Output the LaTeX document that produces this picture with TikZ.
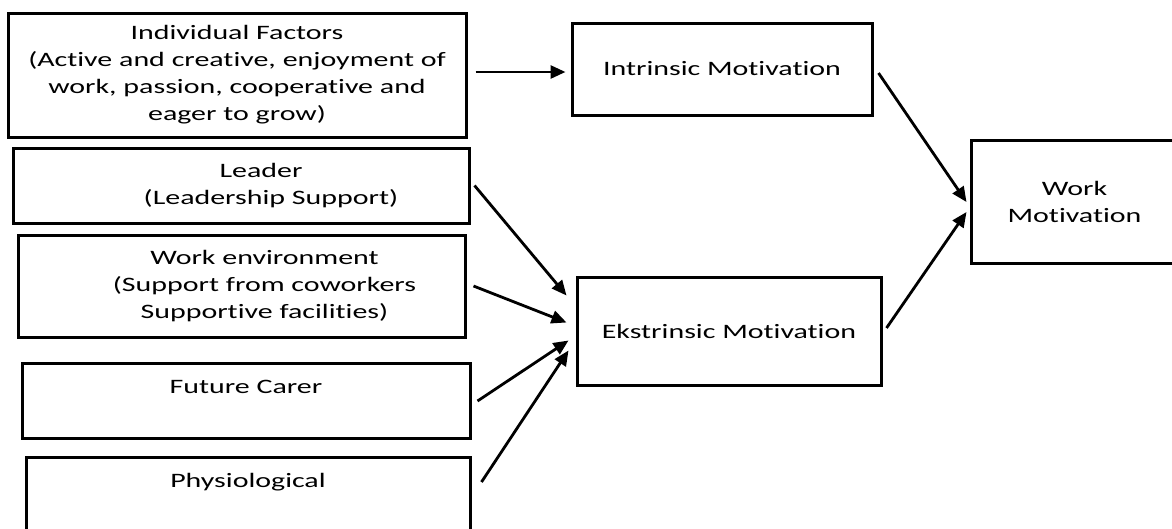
\documentclass[tikz,border=0pt]{standalone}
\usepackage{fontspec}
\setmainfont{Carlito}[FakeStretch=1.46, Ligatures=NoCommon]
\usetikzlibrary{arrows.meta}
\tikzset{box/.style={draw, line width=3pt, inner sep=0pt, align=center,
           font=\fontsize{20.5}{27}\selectfont},
         link/.style={->, line width=2.8pt}}

\begin{document}
\begin{tikzpicture}[x=1pt, y=-1pt, >={Triangle[length=15pt,width=13pt]}]
	\useasboundingbox (0,0) rectangle (1172,528);

	% factors on the left
	\node[box, text width=458pt, minimum height=124pt] (ind) at (237,75)
		{Individual Factors\\(Active and creative, enjoyment of\\work, passion, cooperative and\\eager to grow)};
	\node[box, text width=456pt, minimum height=75pt] (lead) at (241,185.5)
		{\hspace*{40pt}Leader\\\hspace*{60pt}(Leadership Support)};
	\node[box, text width=447pt, minimum height=102pt] (env) at (241.5,286)
		{\hspace*{46pt}Work environment\\\hspace*{46pt}(Support from coworkers\\\hspace*{46pt}Supportive facilities)};
	\node[box, text width=448pt, text height=29.5pt, text depth=45.5pt, anchor=north] (fut) at (246,362) {Future Carer};
	\node[box, text width=444pt, text height=29.5pt, text depth=59.5pt, anchor=north] (phys) at (248,456) {Physiological};

	% motivations
	\node[box, text width=300pt, minimum height=92pt] (intr) at (722,69) {Intrinsic Motivation};
	\node[box, text width=304pt, minimum height=108pt] (eks) at (729,331) {Ekstrinsic Motivation};
	\node[box, text width=207pt, minimum height=123pt] (wm) at (1074.5,201.5) {Work\\Motivation};

	\draw[link] ([shift={(8pt,3pt)}]ind.east) -- ([shift={(-5pt,-3pt)}]intr.west);
	\draw[link] ([xshift=4pt]lead.east) -- ([shift={(-9pt,-20pt)}]eks.north west);
	\draw[link] ([xshift=7pt]env.east) -- ([shift={(-9pt,-47pt)}]eks.north west);
	\draw[link] ([xshift=6pt]fut.east) -- ([shift={(-7pt,-65pt)}]eks.north west);
	\draw[link] ([shift={(10pt,-26pt)}]phys.north east) -- ([shift={(-7pt,-75pt)}]eks.north west);
	\draw[link] ([shift={(5pt,-4pt)}]intr.east) -- ([shift={(-3pt,-0.5pt)}]wm.west);
	\draw[link] ([shift={(4pt,3pt)}]eks.east) -- ([shift={(-3pt,-10.5pt)}]wm.west);
\end{tikzpicture}
\end{document}
